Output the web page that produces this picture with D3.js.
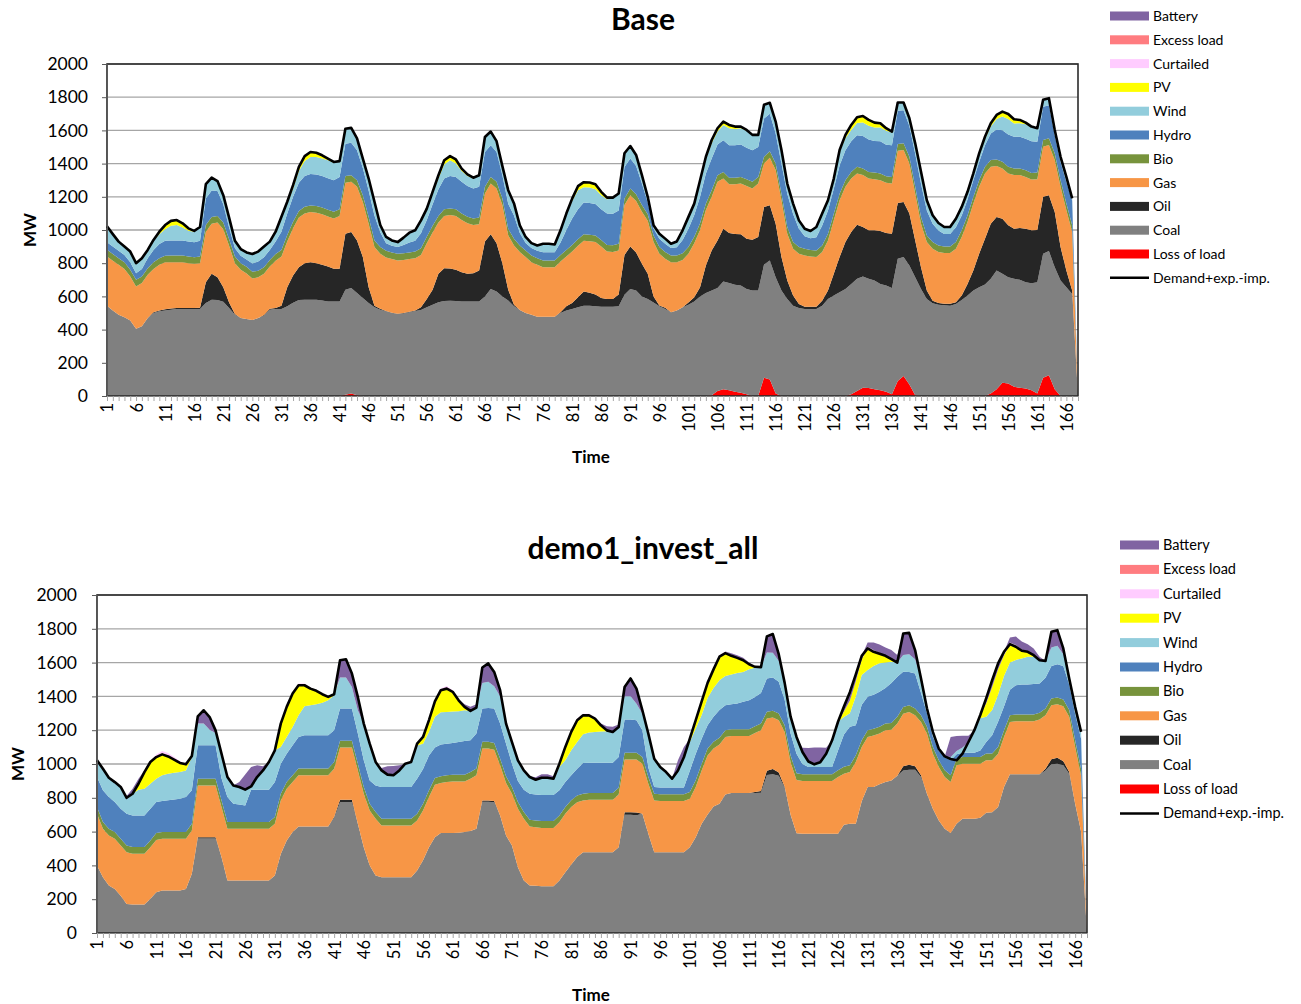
<!DOCTYPE html>
<html><head><meta charset="utf-8">
<script src="https://cdn.jsdelivr.net/npm/d3@7"></script>
<style>body{margin:0;background:#fff;}svg text{font-family:Lato,"Open Sans",sans-serif;}</style>
</head><body>
<svg id="chart" width="1301" height="1004"></svg>
<script>
// ---------- categories & ticks ----------
const categories = d3.range(1, 169);
const xTickLabels = categories.filter(c => (c - 1) % 5 === 0);
const yTicks = [0,200,400,600,800,1000,1200,1400,1600,1800,2000];
const legendNames = ["Battery","Excess load","Curtailed","PV","Wind","Hydro","Bio","Gas","Oil","Coal","Loss of load","Demand+exp.-imp."];
const legendKeys  = ["battery","excess","curtailed","pv","wind","hydro","bio","gas","oil","coal","loss","demand"];

// ---------- Base scenario (MW) ----------
const baseLoss = [
0,0,0,0,0,0,0,0,0,0,0,0,0,0,0,0,0,0,0,0,0,0,0,0,
0,0,0,0,0,0,0,0,0,0,0,0,0,0,0,0,0,8,15,5,0,0,0,0,
0,0,0,0,0,0,0,0,0,0,0,0,0,0,0,0,0,0,0,0,0,0,0,0,
0,0,0,0,0,0,0,0,0,0,0,0,0,0,0,0,0,0,0,0,0,0,0,0,
0,0,0,0,0,0,0,0,5,30,40,35,25,20,10,0,0,110,100,15,0,0,0,0,
0,0,0,0,0,0,0,0,10,30,50,48,40,35,25,10,90,120,70,5,0,0,0,0,
0,0,0,0,0,0,0,0,15,40,80,75,55,50,45,35,15,110,125,40,0,0,0,0];
const baseCoal = [
544,515,490,475,455,405,420,470,500,510,515,520,524,524,524,524,524,560,580,578,568,530,490,470,
464,458,470,484,520,524,524,540,562,578,580,580,580,575,570,570,570,632,636,615,590,560,535,520,
510,500,494,497,505,512,518,535,550,565,572,574,572,570,570,570,570,600,645,630,600,575,540,518,
500,490,478,478,478,478,500,515,524,535,544,544,540,538,538,538,540,610,645,635,600,585,564,540,
524,504,515,534,550,570,600,620,630,620,650,645,645,645,635,635,635,682,717,701,635,585,544,530,
524,524,524,544,585,605,625,645,665,676,670,658,656,640,640,641,737,717,716,711,645,585,558,550,
546,544,554,579,605,635,655,671,691,716,656,641,651,650,640,644,670,747,748,736,696,655,615,0];
const baseOil = [
0,0,0,0,0,0,0,0,5,5,7,7,6,6,6,6,8,125,156,138,87,34,4,0,
0,0,0,4,6,6,20,115,164,198,220,226,220,215,210,196,196,338,337,317,247,95,9,5,
2,2,2,3,2,3,16,50,90,171,198,194,188,175,166,170,186,330,330,290,200,65,10,0,
0,0,0,0,0,0,4,25,36,60,85,78,72,52,47,47,72,240,256,230,196,151,36,5,
8,0,0,0,14,25,55,166,242,287,318,302,306,309,303,307,323,347,332,322,202,111,61,24,
14,14,14,30,50,131,212,282,313,326,298,292,302,319,317,327,336,332,313,221,131,50,16,10,
9,11,11,26,70,121,202,277,332,323,332,312,302,312,323,319,315,343,337,333,201,101,20,0];
const baseGas = [
297,300,300,290,265,255,260,260,260,275,283,279,276,276,270,266,268,305,302,329,350,341,306,290,
274,250,245,248,254,285,296,275,284,299,300,302,304,305,302,304,319,307,302,323,332,383,353,332,
323,323,321,320,318,315,316,335,345,309,315,322,325,315,304,290,279,290,305,330,350,328,357,349,
337,316,312,298,298,298,306,300,310,310,306,310,315,310,285,283,265,300,309,310,314,319,327,312,
295,302,291,286,293,325,345,334,323,353,302,293,299,306,317,308,322,262,286,323,342,282,282,303,
309,302,299,293,302,322,342,333,322,309,313,312,308,306,302,302,315,313,302,283,262,292,313,307,
306,306,322,353,373,403,403,393,343,306,303,313,323,319,312,306,306,302,302,312,363,363,353,0];
const baseBio = [
40,40,40,40,40,40,40,40,40,40,40,40,40,40,40,40,40,40,40,40,40,40,40,40,
40,40,40,40,40,40,40,40,40,40,40,40,40,40,40,40,40,40,40,40,40,40,40,40,
40,40,40,40,40,40,40,40,40,40,40,40,40,40,40,40,40,40,40,40,40,40,40,40,
40,40,40,40,40,40,40,40,40,40,40,40,40,40,40,40,40,40,40,40,40,40,40,40,
40,40,40,40,40,40,40,40,40,40,40,40,40,40,40,40,40,40,40,40,40,40,40,40,
40,40,40,40,40,40,40,40,40,40,40,40,40,40,40,40,40,40,40,40,40,40,40,40,
40,40,40,40,40,40,40,40,40,40,40,40,40,40,40,40,40,40,40,40,40,40,40,0];
const baseHydro = [
45,45,45,45,45,40,45,60,75,85,90,90,90,90,90,90,95,160,160,150,110,70,50,45,
45,50,55,60,60,75,110,130,150,170,185,190,190,190,190,190,195,195,195,180,165,160,150,90,
45,40,40,50,60,65,90,100,130,160,185,195,195,190,185,180,185,210,190,180,140,150,140,75,
45,45,45,50,50,50,75,120,160,180,190,190,190,185,190,190,200,190,180,170,130,70,40,50,
50,45,50,80,110,130,160,180,190,185,190,195,195,195,190,190,180,230,225,180,180,200,170,110,
75,70,80,120,140,150,170,180,185,190,195,195,190,195,190,190,200,200,185,200,200,150,110,90,
75,75,90,90,95,100,110,130,160,180,190,195,190,190,190,190,185,200,200,110,110,130,150,0];
const baseWind = [
96,75,55,50,65,60,65,50,55,60,70,89,94,79,65,64,83,86,78,60,55,60,45,40,
42,57,60,64,50,60,85,60,50,70,90,102,106,105,108,105,95,90,90,72,56,72,83,43,
38,32,30,44,59,63,78,64,65,65,85,95,80,65,60,60,70,90,83,65,55,82,73,46,
36,30,32,51,51,47,73,94,104,114,93,94,89,85,85,92,103,82,76,67,51,35,21,31,
31,26,35,58,72,64,90,86,92,78,93,103,98,98,103,93,73,83,66,72,83,62,62,51,
46,44,61,72,62,57,83,73,68,73,81,83,81,83,84,78,50,46,47,62,73,62,52,45,
42,42,51,51,47,37,42,36,42,63,82,93,81,82,87,84,82,42,42,32,31,31,12,0];
const basePV = [
0,0,0,0,0,0,0,0,5,15,25,30,30,25,15,5,0,0,0,0,0,0,0,0,
0,0,0,0,0,0,5,10,20,25,30,30,25,20,10,5,0,0,0,0,0,0,0,0,
0,0,0,0,0,0,0,5,10,20,25,25,25,15,10,5,0,0,0,0,0,0,0,0,
0,0,0,0,0,0,0,5,15,25,30,30,30,20,10,5,0,0,0,0,0,0,0,0,
0,0,0,0,0,5,10,15,20,20,20,20,15,10,5,0,0,0,0,0,0,0,0,0,
0,0,0,0,0,5,10,20,30,35,40,35,30,25,15,5,0,0,0,0,0,0,0,0,
0,0,0,0,0,5,10,15,20,25,30,30,25,20,10,5,0,0,0,0,0,0,0,0];
const baseDemand = [
1022,975,930,900,870,800,830,880,940,990,1030,1055,1060,1040,1010,995,1018,1276,1316,1295,1210,1075,935,885,
865,855,870,900,930,990,1080,1170,1270,1380,1445,1470,1465,1450,1430,1410,1415,1610,1615,1552,1430,1310,1170,1030,
958,937,927,954,984,998,1058,1129,1230,1330,1420,1445,1425,1370,1335,1315,1330,1560,1593,1535,1385,1240,1160,1028,
958,921,907,917,917,913,998,1099,1189,1264,1288,1286,1276,1230,1195,1195,1220,1462,1506,1452,1331,1200,1028,978,
948,917,931,998,1079,1159,1300,1441,1542,1613,1653,1633,1623,1623,1603,1573,1573,1754,1766,1653,1482,1280,1159,1058,
1008,994,1018,1099,1179,1310,1482,1573,1633,1679,1687,1663,1647,1643,1613,1593,1768,1768,1673,1522,1351,1179,1089,1042,
1018,1018,1068,1139,1230,1341,1462,1562,1643,1693,1713,1699,1667,1663,1647,1623,1613,1784,1794,1603,1441,1320,1190,null];

// ---------- demo1_invest_all scenario (MW) ----------
const invCoal = [
399,330,281,261,221,172,168,168,168,202,241,251,251,251,251,261,350,559,559,559,559,449,310,310,
310,310,310,310,310,310,340,468,547,597,630,630,630,630,630,630,681,773,773,773,646,508,399,340,
330,330,330,330,330,330,370,430,508,567,591,591,591,593,597,603,617,776,776,773,696,577,518,389,
310,281,279,277,277,277,310,360,405,449,478,478,478,478,478,478,508,699,699,697,705,587,478,478,
478,478,478,478,508,567,646,701,749,765,820,828,828,828,828,829,830,935,940,930,860,700,590,587,
587,587,587,587,587,587,640,646,646,780,864,864,880,893,903,930,962,966,966,923,824,735,666,617,
591,646,676,676,676,682,711,715,745,864,939,939,939,939,939,939,962,998,1002,992,943,765,600,0];
const invOil = [
0,0,0,0,0,0,0,0,0,0,0,0,0,0,0,0,0,8,8,8,8,0,0,0,
0,0,0,0,0,0,0,0,0,0,0,0,0,0,0,0,5,15,15,15,0,0,0,0,
0,0,0,0,0,0,0,0,0,0,0,0,0,0,0,0,0,8,8,8,0,0,0,0,
0,0,0,0,0,0,0,0,0,0,0,0,0,0,0,0,0,16,16,16,0,0,0,0,
0,0,0,0,0,0,0,0,0,0,0,0,0,0,0,5,10,25,30,20,5,0,0,0,
0,0,0,0,0,0,0,0,0,0,0,0,0,0,0,0,25,30,20,10,0,0,0,0,
0,0,0,0,0,0,0,0,0,0,0,0,0,0,0,0,10,30,35,25,10,0,0,0];
const invGas = [
306,287,296,296,297,306,301,301,301,306,310,306,306,306,306,296,257,306,306,306,306,296,307,307,
307,307,307,307,307,307,306,316,307,296,303,303,303,303,303,303,286,309,309,309,316,316,326,336,
306,306,306,306,306,306,296,295,297,310,296,302,306,304,300,310,316,307,307,304,296,310,306,346,
366,349,347,345,345,345,346,345,340,325,306,310,310,310,310,310,312,311,311,313,297,296,306,303,
303,303,303,303,286,297,316,350,342,351,340,338,338,338,338,350,360,309,305,309,325,310,315,312,
312,312,312,312,312,336,303,306,366,321,296,304,300,306,300,309,311,312,302,316,356,326,316,306,
302,346,326,326,326,320,311,307,316,296,310,314,314,314,314,324,316,320,317,325,326,336,330,0];
const invBio = [
40,40,40,40,40,40,40,40,40,40,40,40,40,40,40,40,40,40,40,40,40,40,40,40,
40,40,40,40,40,40,40,40,40,40,40,40,40,40,40,40,40,40,40,40,40,40,40,40,
40,40,40,40,40,40,40,40,40,40,40,40,40,40,40,40,40,40,40,40,40,40,40,40,
40,40,40,40,40,40,40,40,40,40,40,40,40,40,40,40,40,40,40,40,40,40,40,40,
40,40,40,40,40,40,40,40,40,40,40,40,40,40,40,40,40,40,40,40,40,40,40,40,
40,40,40,40,40,40,40,40,40,40,40,40,40,40,40,40,40,40,40,40,40,40,40,40,
40,40,40,40,40,40,40,40,40,40,40,40,40,40,40,40,40,40,40,40,40,40,40,0];
const invHydro = [
178,187,187,178,177,187,187,187,187,187,184,184,188,193,198,207,197,198,198,198,198,130,147,108,
103,98,191,191,191,191,207,178,167,178,187,197,197,197,197,197,187,191,191,191,178,158,138,157,
188,188,188,188,188,188,207,205,205,180,188,187,187,193,199,187,207,197,201,203,207,193,138,124,
132,154,154,154,154,154,148,148,148,158,182,180,180,180,180,180,181,197,197,193,158,57,40,40,
40,40,40,40,126,156,148,139,149,164,148,148,152,162,171,173,180,197,197,187,150,130,115,61,
43,43,43,43,43,117,192,228,178,209,198,202,208,211,237,238,208,197,208,131,80,60,58,77,
89,25,25,25,25,38,68,108,149,140,151,173,177,177,181,173,182,192,196,198,151,157,180,0];
const invWind = [
99,128,115,118,129,95,128,152,158,148,138,152,158,158,157,158,197,128,129,92,73,146,119,108,
104,93,19,75,114,164,188,98,99,108,128,172,178,184,192,207,208,184,184,128,138,217,217,139,
98,73,69,98,138,148,197,150,140,183,191,188,186,182,182,174,154,152,154,132,161,119,128,123,
114,99,87,103,103,97,138,129,148,158,170,178,182,184,186,182,178,138,138,97,98,200,167,121,
91,52,101,179,170,150,140,160,170,175,173,176,180,176,183,173,153,154,147,124,100,100,100,71,
33,16,28,79,158,170,103,80,170,177,158,170,168,150,125,83,99,105,84,86,30,29,10,5,
20,20,30,60,133,190,150,150,160,180,160,150,155,165,160,138,100,110,110,70,36,40,40,0];
const invPV = [
0,0,0,0,0,0,0,35,98,129,128,124,102,78,54,36,6,0,0,0,0,0,0,0,
0,0,0,0,0,0,0,139,178,198,178,124,98,79,51,20,6,0,0,0,0,0,0,0,
0,0,0,0,0,0,10,40,70,90,131,138,117,65,20,0,0,0,0,0,0,0,0,0,
0,0,0,0,0,0,20,79,109,129,112,102,79,37,5,0,0,0,0,0,0,0,0,0,
0,0,0,0,20,50,80,90,110,140,135,110,90,70,30,5,0,0,0,0,0,0,0,0,
0,0,0,0,0,0,32,76,90,93,128,84,56,40,15,0,0,0,0,0,0,0,0,0,
0,0,0,0,0,20,80,136,150,124,109,78,45,29,10,0,0,0,0,0,0,0,0,0];
const invCurtailed = [
0,0,0,0,0,0,0,0,0,5,15,20,20,15,10,5,0,0,0,0,0,0,0,0,
0,0,0,0,0,0,0,0,0,0,10,10,5,0,0,0,0,0,0,0,0,0,0,0,
0,0,0,0,0,0,0,0,0,10,10,15,10,5,0,0,0,0,0,0,0,0,0,0,
0,0,0,0,0,0,0,0,0,10,10,10,5,0,0,0,0,0,0,0,0,0,0,0,
0,0,0,0,0,0,0,0,0,10,10,5,0,0,0,0,0,0,0,0,0,0,0,0,
0,0,0,0,0,0,0,0,0,0,10,10,5,0,0,0,0,0,0,0,0,0,0,0,
0,0,0,0,0,0,0,0,0,0,10,10,5,0,0,0,0,0,0,0,0,0,0,0];
const invBattery = [
0,0,0,0,0,10,30,30,10,0,0,0,0,0,0,0,0,43,78,75,15,0,0,0,
30,90,115,70,25,0,0,0,0,0,0,0,0,0,0,0,0,102,108,79,79,0,0,0,
15,50,55,30,0,0,0,0,0,0,0,0,0,0,15,25,20,91,109,85,37,0,0,0,
0,5,15,20,20,15,0,0,0,0,0,0,0,10,25,30,15,55,105,90,20,0,0,0,
0,0,60,60,0,0,0,0,0,0,0,10,15,15,10,0,0,95,110,40,0,0,0,25,
80,100,87,35,0,0,30,49,40,20,25,45,50,50,55,45,127,126,54,0,0,0,0,0,
118,89,70,40,0,0,30,40,35,20,30,50,50,45,40,20,0,92,92,34,0,0,0,0];
const invDemand = [
1022,972,919,893,864,800,824,883,952,1012,1041,1057,1045,1026,1006,998,1047,1282,1318,1278,1199,1061,923,873,
864,848,867,923,962,1012,1081,1239,1338,1417,1466,1466,1446,1433,1413,1397,1413,1614,1620,1535,1397,1239,1120,1012,
962,937,933,962,1002,1012,1120,1160,1260,1370,1437,1446,1427,1377,1338,1314,1334,1571,1595,1545,1437,1239,1130,1022,
962,923,907,919,919,913,1002,1101,1190,1259,1288,1288,1269,1229,1199,1190,1219,1456,1506,1446,1318,1180,1031,982,
952,913,962,1040,1150,1260,1370,1480,1560,1635,1656,1640,1628,1614,1590,1575,1573,1755,1769,1650,1480,1280,1160,1071,
1015,998,1010,1061,1140,1250,1340,1425,1530,1640,1684,1664,1652,1640,1620,1600,1772,1776,1674,1506,1330,1190,1090,1045,
1030,1022,1061,1130,1200,1290,1390,1496,1595,1664,1709,1694,1670,1664,1644,1614,1610,1782,1792,1684,1506,1338,1190,null];

// ---------- styling ----------
const colors = {battery:"#8064A2", excess:"#FF7C80", curtailed:"#FFCCFF", pv:"#FFFF00", wind:"#92CDDC",
  hydro:"#4F81BD", bio:"#77933C", gas:"#F79646", oil:"#262626", coal:"#808080", loss:"#FF0000"};
const FONT = 'Lato, "Open Sans", sans-serif';
const svg = d3.select("#chart");

function drawChart(cfg, series, demand) {
  const g = svg.append("g");
  const x = d3.scalePoint().domain(categories).range([cfg.left, cfg.right]);
  const y = d3.scaleLinear().domain([0, 2000]).range([cfg.bottom, cfg.top]);

  g.append("g").selectAll("line").data(yTicks.filter(v => v > 0)).join("line")
    .attr("x1", cfg.left).attr("x2", cfg.right)
    .attr("y1", d => y(d)).attr("y2", d => y(d))
    .attr("stroke", "#a6a6a6").attr("stroke-width", 1.3);

  const rows = categories.map((c, i) => {
    const r = {cat: c};
    series.forEach(s => r[s.key] = s.values[i]);
    return r;
  });
  const stacked = d3.stack().keys(series.map(s => s.key))(rows);
  const area = d3.area().x(d => x(d.data.cat)).y0(d => y(d[0])).y1(d => y(d[1]));
  g.append("g").selectAll("path").data(stacked).join("path")
    .attr("fill", d => colors[d.key]).attr("d", area);

  const line = d3.line().defined(d => d != null).x((d, i) => x(categories[i])).y(d => y(d));
  g.append("path").datum(demand).attr("fill", "none").attr("stroke", "#000")
    .attr("stroke-width", 2.6).attr("stroke-linejoin", "round").attr("d", line);

  g.append("rect").attr("x", cfg.left).attr("y", cfg.top)
    .attr("width", cfg.right - cfg.left).attr("height", cfg.bottom - cfg.top)
    .attr("fill", "none").attr("stroke", "#2b2b2b").attr("stroke-width", 1.6);

  // y axis
  const ya = g.append("g").attr("transform", `translate(${cfg.left},0)`)
    .call(d3.axisLeft(y).tickValues(yTicks).tickFormat(d3.format("d")).tickSize(5).tickPadding(cfg.yPad));
  ya.select(".domain").attr("stroke", "#595959");
  ya.selectAll(".tick line").attr("stroke", "#595959");
  ya.selectAll("text").attr("font-family", FONT).attr("font-size", 17.5).attr("fill", "#000");

  // x axis ticks (every category)
  const xt = g.append("g").attr("transform", `translate(0,${cfg.bottom})`)
    .call(d3.axisBottom(x).tickValues(categories).tickSize(5).tickFormat(""));
  xt.select(".domain").attr("stroke", "#7f7f7f");
  xt.selectAll(".tick line").attr("stroke", "#a6a6a6");
  // x labels
  const xl = g.append("g").attr("transform", `translate(0,${cfg.bottom})`)
    .call(d3.axisBottom(x).tickValues(xTickLabels).tickSize(0));
  xl.select(".domain").remove();
  xl.selectAll("text").attr("font-family", FONT).attr("font-size", 16.5).attr("fill", "#000")
    .attr("transform", "rotate(-90)").attr("text-anchor", "end")
    .attr("x", -7).attr("y", 0).attr("dy", "0.36em");

  // titles
  g.append("text").attr("x", 643).attr("y", cfg.titleY).attr("text-anchor", "middle")
    .attr("font-size", 30).attr("font-weight", "bold").text(cfg.title);
  g.append("text").attr("transform", `translate(${cfg.mwX},${(cfg.top + cfg.bottom) / 2}) rotate(-90)`)
    .attr("text-anchor", "middle").attr("dy", "0.35em")
    .attr("font-size", 17).attr("font-weight", "bold").text("MW");
  g.append("text").attr("x", 591).attr("y", cfg.timeY).attr("text-anchor", "middle").attr("dy", "0.35em")
    .attr("font-size", 17).attr("font-weight", "bold").text("Time");

  // legend
  const lg = g.append("g");
  legendKeys.forEach((k, i) => {
    const yy = cfg.legY + i * cfg.legDy;
    if (k === "demand") {
      lg.append("line").attr("x1", cfg.legX).attr("x2", cfg.legX + 39)
        .attr("y1", yy).attr("y2", yy).attr("stroke", "#000").attr("stroke-width", 2.5);
    } else {
      lg.append("rect").attr("x", cfg.legX).attr("y", yy - 4.5).attr("width", 39).attr("height", 9)
        .attr("fill", colors[k]);
    }
    lg.append("text").attr("x", cfg.legX + 43).attr("y", yy).attr("dy", "0.35em")
      .attr("font-size", cfg.legFont).text(legendNames[i]);
  });
}

drawChart({left:107, right:1078, top:64, bottom:396, yPad:14, title:"Base", titleY:30,
  mwX:30, timeY:457, legX:1110, legY:16, legDy:23.8, legFont:14},
  [{key:"loss", values:baseLoss}, {key:"coal", values:baseCoal}, {key:"oil", values:baseOil},
   {key:"gas", values:baseGas}, {key:"bio", values:baseBio}, {key:"hydro", values:baseHydro},
   {key:"wind", values:baseWind}, {key:"pv", values:basePV}],
  baseDemand);

drawChart({left:97, right:1087, top:595, bottom:933, yPad:15, title:"demo1_invest_all", titleY:559,
  mwX:18, timeY:995, legX:1120, legY:545, legDy:24.4, legFont:14.5},
  [{key:"coal", values:invCoal}, {key:"oil", values:invOil}, {key:"gas", values:invGas},
   {key:"bio", values:invBio}, {key:"hydro", values:invHydro}, {key:"wind", values:invWind},
   {key:"pv", values:invPV}, {key:"curtailed", values:invCurtailed}, {key:"battery", values:invBattery}],
  invDemand);
</script>
</body></html>
